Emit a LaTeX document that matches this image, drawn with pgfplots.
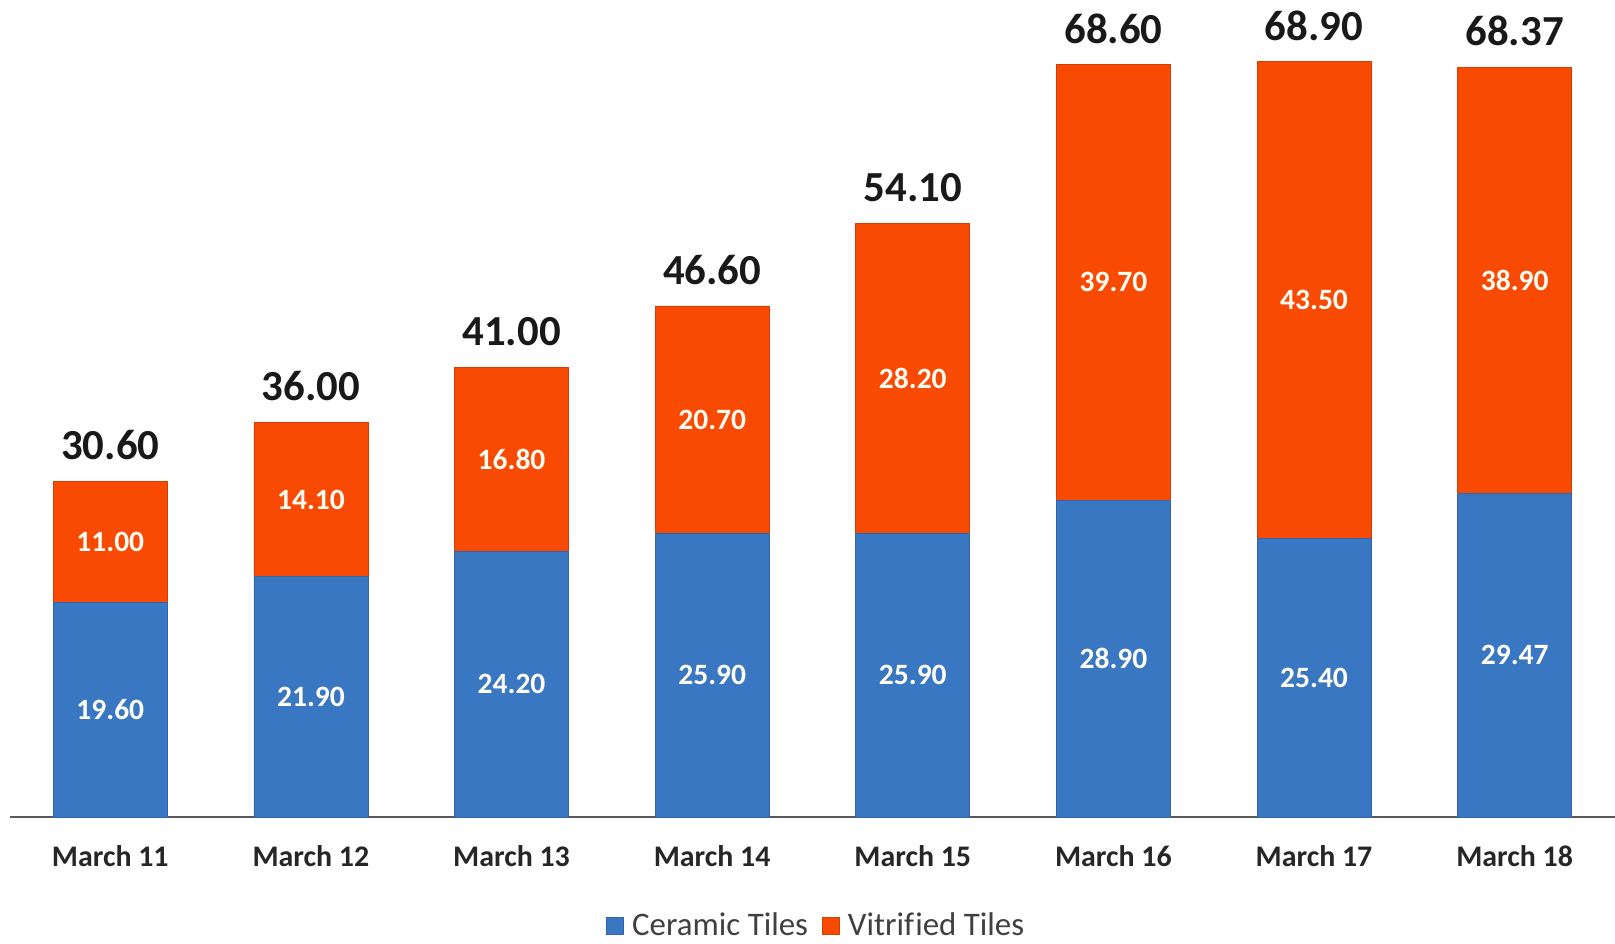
\documentclass[border=0pt]{standalone}
\usepackage{pgfplots}
\usepackage{pgfplotstable}
\pgfplotsset{compat=1.18}
\usepackage{fontspec}
\setmainfont{Carlito}
\definecolor{cer}{HTML}{3A77C3}
\definecolor{vit}{HTML}{F94A03}
\definecolor{axisgray}{HTML}{595959}
\pgfplotstableread{
x c v ctxt vtxt total
0 19.60 11.00 19.60 11.00 30.60
1 21.90 14.10 21.90 14.10 36.00
2 24.20 16.80 24.20 16.80 41.00
3 25.90 20.70 25.90 20.70 46.60
4 25.90 28.20 25.90 28.20 54.10
5 28.90 39.70 28.90 39.70 68.60
6 25.40 43.50 25.40 43.50 68.90
7 29.47 38.90 29.47 38.90 68.37
}\data
\begin{document}
\begin{tikzpicture}
\pgfplotsset{common/.style={
  scale only axis, width=802.5bp, height=408.5bp,
  xmin=-0.5, xmax=7.5, ymin=0, ymax=74.5, clip=false}}
\begin{axis}[common,
  ybar stacked, bar width=57bp,
  axis x line*=bottom, axis y line=none,
  x axis line style={draw=axisgray, line width=1.2bp},
  xtick=data, major tick length=0pt,
  xticklabels={March 11,March 12,March 13,March 14,March 15,March 16,March 17,March 18},
  every x tick label/.append style={anchor=center, yshift=-19.5bp,
    font=\fontsize{15}{17}\selectfont\bfseries, text=black!85},
  ytick=\empty,
  legend style={at={(0.503,-0.133)}, anchor=center, draw=none, inner sep=0.5bp,
    legend columns=2, font=\fontsize{16.5}{19}\selectfont, text=black!75,
    /tikz/every even column/.append style={column sep=5bp}},
  legend image code/.code={\fill[#1] (0bp,-4.2bp) rectangle (8.4bp,4.2bp); \path (10.5bp,0bp);},
]
\addplot[fill=cer, draw=cer!85!black, line width=0.4bp] table[x=x, y=c] {\data};
\addlegendentry{Ceramic Tiles}
\addplot[fill=vit, draw=vit!85!black, line width=0.4bp] table[x=x, y=v] {\data};
\addlegendentry{Vitrif\kern0.6pt ied Tiles}
\end{axis}
\begin{axis}[common, hide axis]
\addplot[draw=none, mark=none, nodes near coords, point meta=explicit symbolic,
  every node near coord/.style={anchor=center, text=white!96!yellow,
    font=\fontsize{14.8}{17}\selectfont\bfseries}]
  table[x=x, y expr=\thisrow{c}/2, meta=ctxt] {\data};
\addplot[draw=none, mark=none, nodes near coords, point meta=explicit symbolic,
  every node near coord/.style={anchor=center, text=white!96!yellow,
    font=\fontsize{14.8}{17}\selectfont\bfseries}]
  table[x=x, y expr=\thisrow{c}+\thisrow{v}/2, meta=vtxt] {\data};
\addplot[draw=none, mark=none, nodes near coords, point meta=explicit symbolic,
  every node near coord/.style={anchor=center, yshift=18bp, text=black!90,
    font=\fontsize{21.5}{24}\selectfont\bfseries}]
  table[x=x, y=total, meta=total] {\data};
\end{axis}
\pgfresetboundingbox
\path[use as bounding box] ([shift={(-5bp,-63.5bp)}]current axis.south west) rectangle ([shift={(802.5bp,408.5bp)}]current axis.south west);
\end{tikzpicture}
\end{document}
